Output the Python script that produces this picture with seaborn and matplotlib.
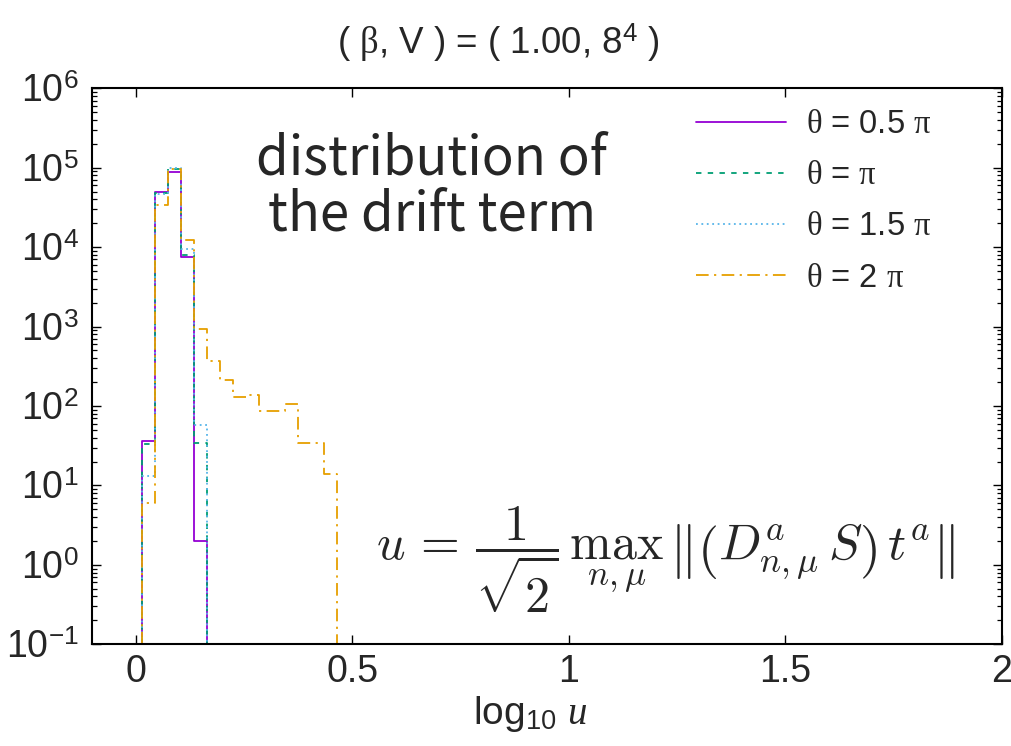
import numpy as np
import pandas as pd
import matplotlib
matplotlib.use("Agg")
import matplotlib.pyplot as plt
from matplotlib.ticker import FixedLocator, FixedFormatter, LogLocator, NullFormatter, NullLocator
import seaborn as sns

# ---------------- data ----------------
bin_edges = [-0.015, 0.015, 0.045, 0.075, 0.105, 0.135, 0.165, 0.195, 0.225,
             0.255, 0.285, 0.315, 0.345, 0.375, 0.405, 0.435, 0.465, 0.495]
counts_05pi = [0, 36, 50000, 88000, 7500, 2, 0, 0, 0, 0, 0, 0, 0, 0, 0, 0, 0]
counts_1pi = [0, 33, 48000, 96000, 7900, 34, 0, 0, 0, 0, 0, 0, 0, 0, 0, 0, 0]
counts_15pi = [0, 13, 47000, 100000, 9500, 58, 0, 0, 0, 0, 0, 0, 0, 0, 0, 0, 0]
counts_2pi = [0, 6, 34000, 96000, 12400, 920, 365, 210, 129, 139, 86, 87, 107, 34, 34, 14, 0]

series_labels = [r"$\mathsf{\theta}$ = 0.5 $\mathsf{\pi}$",
                 r"$\mathsf{\theta}$ = $\mathsf{\pi}$",
                 r"$\mathsf{\theta}$ = 1.5 $\mathsf{\pi}$",
                 r"$\mathsf{\theta}$ = 2 $\mathsf{\pi}$"]
series_counts = [counts_05pi, counts_1pi, counts_15pi, counts_2pi]
series_colors = ["#9400d3", "#009e73", "#56b4e9", "#e69f00"]
series_dashes = [None, (3, 3.5), (1, 2), (7, 3, 1.2, 3)]

xticks = [0, 0.5, 1, 1.5, 2]
xticklabels = ["0", "0.5", "1", "1.5", "2"]
yticks = [1e-1, 1e0, 1e1, 1e2, 1e3, 1e4, 1e5, 1e6]
yticklabels = [r"10$^{-1}$", r"10$^{0}$", r"10$^{1}$", r"10$^{2}$",
               r"10$^{3}$", r"10$^{4}$", r"10$^{5}$", r"10$^{6}$"]

# ---------------- style ----------------
sns.set_style("ticks")
plt.rcParams["font.family"] = ["Liberation Sans", "DejaVu Sans"]
plt.rcParams["mathtext.fontset"] = "custom"
plt.rcParams["mathtext.rm"] = "Liberation Sans"
plt.rcParams["mathtext.sf"] = "Liberation Serif"
plt.rcParams["mathtext.it"] = "Liberation Serif:italic"
plt.rcParams["axes.linewidth"] = 1.5

fig = plt.figure(figsize=(10.12, 7.46), dpi=100)
L, R, T, B = 92.4, 1002.0, 88.3, 644.3
ax = fig.add_axes([L / 1012, 1 - B / 746, (R - L) / 1012, (B - T) / 746])

centers = [0.5 * (a + b) for a, b in zip(bin_edges[:-1], bin_edges[1:])]

for lab, cnt, col, dsh in zip(series_labels, series_counts, series_colors, series_dashes):
    df = pd.DataFrame({"x": centers, "w": cnt})
    kws = dict(color=col, linewidth=1.3, label=lab)
    if dsh is None:
        kws["linestyle"] = "-"
    else:
        kws["dashes"] = dsh
    sns.histplot(data=df, x="x", weights="w", bins=list(bin_edges), element="step",
                 fill=False, ax=ax, **kws)

ax.set_yscale("log")
ax.set_xlim(-0.1, 2)
ax.set_ylim(1e-1, 1e6)

ax.xaxis.set_major_locator(FixedLocator(xticks))
ax.xaxis.set_major_formatter(FixedFormatter(xticklabels))
ax.xaxis.set_minor_locator(NullLocator())
ax.yaxis.set_major_locator(FixedLocator(yticks))
ax.yaxis.set_major_formatter(FixedFormatter(yticklabels))
ax.yaxis.set_minor_locator(LogLocator(base=10, subs=np.arange(2, 10), numticks=20))
ax.yaxis.set_minor_formatter(NullFormatter())
ax.tick_params(which="both", direction="in", top=True, right=True, color="black")
ax.tick_params(which="major", length=6.5, width=1.0, labelsize=27)
ax.tick_params(which="minor", length=3.5, width=0.9)
ax.tick_params(axis="x", which="major", pad=7)
ax.tick_params(axis="y", which="major", pad=10)
for s in ax.spines.values():
    s.set_color("black")
    s.set_linewidth(1.5)

ax.set_ylabel("")
ax.set_xlabel(r"log$_{10}$ $u$", fontsize=28)
ax.xaxis.set_label_coords(0.481, -0.09)

fig.text(498 / 1012, 1 - 43 / 746, r"( $\mathsf{\beta}$, V ) = ( 1.00, 8$^{4}$ )",
         ha="center", va="center", fontsize=26.5)

ax.text(0.373, 0.822, "distribution of\nthe drift term", transform=ax.transAxes,
        ha="center", va="center", fontsize=38, linespacing=1.02,
        family=["Noto Sans CJK JP", "DejaVu Sans"], fontweight="normal")

ax.text(0.948, 0.152,
        r"$u\,=\,\dfrac{1}{\sqrt{2}}\,\max_{n,\mu}\,\left\|\left(D^a_{n,\mu}S\right)\,t^a\right\|$",
        transform=ax.transAxes, ha="right", va="center", fontsize=36, math_fontfamily="cm")

leg = ax.legend(loc="upper left", bbox_to_anchor=(696 / 1012, 1 - 109 / 746),
                bbox_transform=fig.transFigure, frameon=False, fontsize=23.5,
                borderpad=0, borderaxespad=0, handlelength=2.75, handletextpad=0.63,
                labelspacing=0.62)

fig.savefig("out.png", dpi=100)
